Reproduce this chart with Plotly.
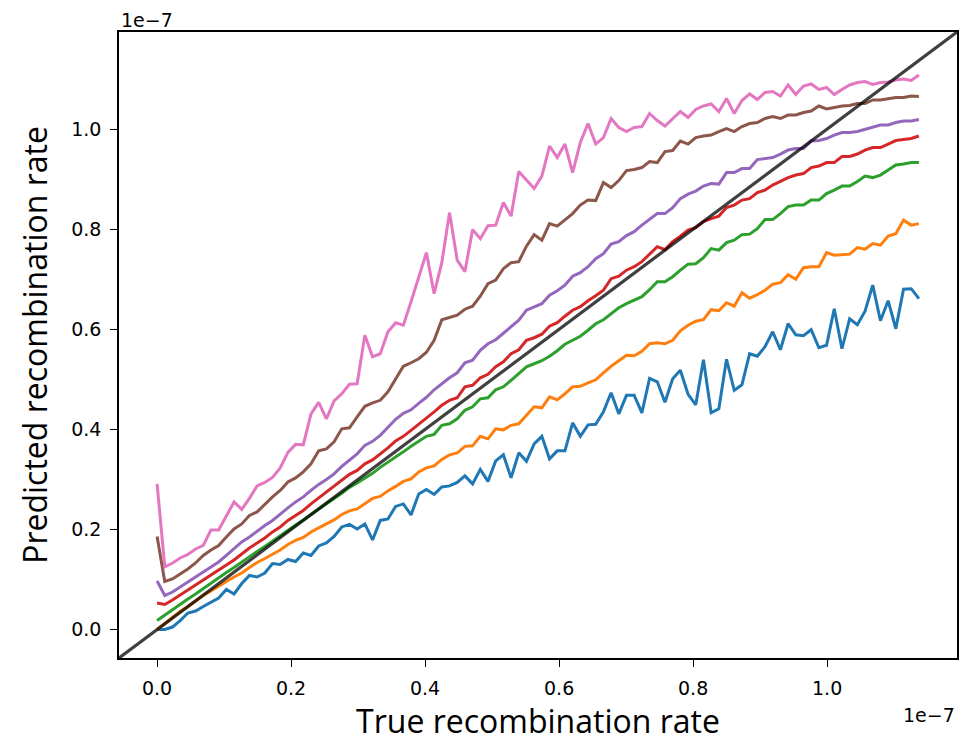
import numpy as np
import plotly.graph_objects as go

# True recombination rate grid (units of 1e-7), 100 evaluation points
true_rate = np.linspace(0.0, 1.137, 100)

blue = [0.000, 0.000, 0.005, 0.018, 0.033, 0.037, 0.046, 0.055, 0.063, 0.080,
        0.071, 0.092, 0.108, 0.105, 0.113, 0.132, 0.130, 0.140, 0.136, 0.153,
        0.148, 0.167, 0.173, 0.186, 0.205, 0.210, 0.201, 0.211, 0.179, 0.218,
        0.221, 0.246, 0.251, 0.229, 0.271, 0.280, 0.270, 0.285, 0.287, 0.294,
        0.307, 0.291, 0.320, 0.296, 0.337, 0.349, 0.303, 0.353, 0.336, 0.371,
        0.386, 0.341, 0.357, 0.357, 0.413, 0.386, 0.409, 0.410, 0.435, 0.473,
        0.431, 0.468, 0.468, 0.433, 0.502, 0.495, 0.454, 0.501, 0.518, 0.470,
        0.449, 0.539, 0.433, 0.441, 0.540, 0.478, 0.489, 0.551, 0.546, 0.565,
        0.595, 0.559, 0.611, 0.589, 0.587, 0.599, 0.563, 0.568, 0.641, 0.561,
        0.621, 0.609, 0.636, 0.688, 0.617, 0.657, 0.601, 0.680, 0.681, 0.661]

orange = [0.000, 0.012, 0.024, 0.036, 0.046, 0.057, 0.068, 0.077, 0.087, 0.096,
          0.105, 0.113, 0.124, 0.134, 0.142, 0.151, 0.159, 0.170, 0.178, 0.184,
          0.195, 0.203, 0.211, 0.219, 0.230, 0.237, 0.241, 0.251, 0.262, 0.266,
          0.277, 0.286, 0.296, 0.301, 0.315, 0.323, 0.327, 0.340, 0.349, 0.353,
          0.366, 0.367, 0.386, 0.381, 0.401, 0.399, 0.408, 0.411, 0.428, 0.445,
          0.443, 0.465, 0.459, 0.471, 0.485, 0.486, 0.493, 0.499, 0.513, 0.526,
          0.537, 0.548, 0.547, 0.556, 0.571, 0.573, 0.571, 0.578, 0.597, 0.608,
          0.616, 0.619, 0.639, 0.637, 0.653, 0.646, 0.673, 0.662, 0.669, 0.678,
          0.690, 0.693, 0.709, 0.700, 0.723, 0.725, 0.725, 0.753, 0.748, 0.749,
          0.750, 0.763, 0.760, 0.771, 0.768, 0.786, 0.791, 0.818, 0.808, 0.811]

green = [0.018, 0.029, 0.040, 0.051, 0.061, 0.071, 0.082, 0.093, 0.103, 0.114,
         0.124, 0.135, 0.145, 0.156, 0.166, 0.177, 0.187, 0.198, 0.209, 0.219,
         0.230, 0.241, 0.251, 0.262, 0.272, 0.284, 0.293, 0.303, 0.312, 0.324,
         0.334, 0.345, 0.355, 0.366, 0.376, 0.386, 0.390, 0.408, 0.411, 0.421,
         0.438, 0.445, 0.461, 0.463, 0.479, 0.485, 0.498, 0.511, 0.525, 0.531,
         0.537, 0.546, 0.557, 0.570, 0.578, 0.586, 0.598, 0.611, 0.619, 0.631,
         0.643, 0.651, 0.658, 0.665, 0.679, 0.695, 0.695, 0.705, 0.718, 0.730,
         0.731, 0.743, 0.761, 0.758, 0.773, 0.778, 0.789, 0.790, 0.801, 0.819,
         0.819, 0.831, 0.845, 0.848, 0.848, 0.858, 0.858, 0.871, 0.878, 0.886,
         0.886, 0.895, 0.906, 0.903, 0.908, 0.918, 0.928, 0.930, 0.933, 0.933]

red = [0.053, 0.050, 0.059, 0.069, 0.079, 0.089, 0.099, 0.109, 0.119, 0.129,
       0.139, 0.151, 0.163, 0.173, 0.183, 0.195, 0.205, 0.218, 0.228, 0.238,
       0.251, 0.263, 0.275, 0.286, 0.298, 0.310, 0.318, 0.331, 0.339, 0.351,
       0.363, 0.377, 0.386, 0.398, 0.410, 0.422, 0.435, 0.448, 0.458, 0.463,
       0.485, 0.488, 0.503, 0.510, 0.525, 0.535, 0.551, 0.559, 0.578, 0.583,
       0.590, 0.606, 0.613, 0.626, 0.638, 0.645, 0.657, 0.667, 0.678, 0.701,
       0.706, 0.718, 0.725, 0.735, 0.750, 0.765, 0.759, 0.775, 0.786, 0.798,
       0.803, 0.815, 0.821, 0.826, 0.843, 0.848, 0.858, 0.861, 0.873, 0.878,
       0.888, 0.895, 0.903, 0.908, 0.911, 0.923, 0.926, 0.933, 0.933, 0.945,
       0.945, 0.950, 0.958, 0.963, 0.963, 0.970, 0.977, 0.979, 0.981, 0.986]

purple = [0.097, 0.068, 0.075, 0.085, 0.095, 0.105, 0.115, 0.125, 0.135, 0.148,
          0.161, 0.175, 0.185, 0.197, 0.208, 0.218, 0.231, 0.243, 0.255, 0.265,
          0.278, 0.290, 0.300, 0.311, 0.326, 0.338, 0.351, 0.368, 0.376, 0.388,
          0.403, 0.420, 0.432, 0.439, 0.452, 0.464, 0.479, 0.491, 0.503, 0.513,
          0.533, 0.538, 0.558, 0.571, 0.579, 0.592, 0.606, 0.618, 0.638, 0.644,
          0.651, 0.668, 0.677, 0.688, 0.706, 0.713, 0.725, 0.741, 0.751, 0.770,
          0.775, 0.787, 0.795, 0.808, 0.820, 0.831, 0.831, 0.843, 0.861, 0.870,
          0.876, 0.886, 0.891, 0.890, 0.913, 0.913, 0.921, 0.921, 0.939, 0.941,
          0.943, 0.950, 0.958, 0.961, 0.961, 0.976, 0.977, 0.981, 0.988, 0.993,
          0.993, 0.995, 0.999, 1.003, 1.008, 1.008, 1.013, 1.016, 1.016, 1.019]

brown = [0.186, 0.096, 0.101, 0.111, 0.121, 0.133, 0.148, 0.159, 0.168, 0.185,
         0.201, 0.211, 0.228, 0.235, 0.251, 0.265, 0.278, 0.295, 0.303, 0.315,
         0.331, 0.357, 0.361, 0.375, 0.401, 0.403, 0.425, 0.446, 0.453, 0.458,
         0.475, 0.501, 0.526, 0.533, 0.541, 0.554, 0.578, 0.619, 0.624, 0.628,
         0.640, 0.646, 0.666, 0.691, 0.698, 0.721, 0.733, 0.735, 0.766, 0.789,
         0.778, 0.811, 0.806, 0.818, 0.831, 0.848, 0.858, 0.857, 0.893, 0.883,
         0.897, 0.917, 0.919, 0.923, 0.935, 0.933, 0.955, 0.957, 0.976, 0.970,
         0.983, 0.986, 0.988, 0.995, 1.001, 0.995, 1.005, 1.011, 1.013, 1.021,
         1.025, 1.021, 1.028, 1.028, 1.033, 1.036, 1.046, 1.040, 1.043, 1.046,
         1.047, 1.051, 1.051, 1.058, 1.058, 1.061, 1.063, 1.063, 1.066, 1.065]

pink = [0.291, 0.125, 0.133, 0.143, 0.150, 0.161, 0.168, 0.199, 0.199, 0.228,
        0.255, 0.240, 0.262, 0.287, 0.294, 0.304, 0.323, 0.354, 0.370, 0.369,
        0.431, 0.454, 0.421, 0.457, 0.471, 0.490, 0.491, 0.588, 0.545, 0.551,
        0.595, 0.613, 0.608, 0.655, 0.705, 0.753, 0.671, 0.733, 0.833, 0.738,
        0.715, 0.799, 0.781, 0.807, 0.808, 0.853, 0.826, 0.915, 0.898, 0.881,
        0.906, 0.966, 0.943, 0.970, 0.913, 0.973, 1.011, 0.970, 0.983, 1.021,
        1.003, 0.995, 1.003, 1.005, 1.031, 1.017, 1.006, 1.021, 1.035, 1.023,
        1.039, 1.046, 1.050, 1.035, 1.061, 1.031, 1.057, 1.070, 1.059, 1.073,
        1.075, 1.066, 1.088, 1.069, 1.086, 1.090, 1.079, 1.083, 1.069, 1.079,
        1.088, 1.093, 1.095, 1.089, 1.093, 1.094, 1.098, 1.100, 1.097, 1.108]

series = [blue, orange, green, red, purple, brown, pink]
colors = ["#1f77b4", "#ff7f0e", "#2ca02c", "#d62728", "#9467bd", "#8c564b", "#e377c2"]

tick_vals = [0.0, 0.2, 0.4, 0.6, 0.8, 1.0]
tick_text = ["0.0", "0.2", "0.4", "0.6", "0.8", "1.0"]
scale = 1e-7

x_max = float(true_rate[-1])
pad = 0.05 * x_max
axis_range = [(-pad) * scale, (x_max + pad) * scale]

fig = go.Figure()
x_data = true_rate * scale
for vals, col in zip(series, colors):
    fig.add_trace(go.Scatter(x=x_data, y=np.array(vals) * scale, mode="lines",
                             line=dict(color=col, width=3), showlegend=False,
                             hoverinfo="skip"))

# identity line y = x spanning the axes
fig.add_trace(go.Scatter(x=axis_range, y=axis_range, mode="lines",
                         line=dict(color="rgba(0,0,0,0.75)", width=3.2),
                         showlegend=False, hoverinfo="skip"))

tick_font = dict(family="DejaVu Sans", size=19, color="black")
title_font = dict(family="Open Sans", size=32, color="black")

common = dict(range=axis_range, showline=True, linecolor="black", linewidth=1.6,
              mirror=True, ticks="outside", ticklen=7, tickwidth=1.4,
              tickcolor="black", showgrid=False, zeroline=False,
              tickvals=[v * scale for v in tick_vals], ticktext=tick_text,
              tickfont=tick_font, ticklabelstandoff=5)

fig.update_layout(
    width=966, height=744,
    margin=dict(l=119, r=9, t=32, b=86),
    paper_bgcolor="white", plot_bgcolor="white",
    xaxis=dict(**common, automargin=False,
               title=dict(text="True recombination rate", font=title_font, standoff=8)),
    yaxis=dict(**common, automargin=False,
               title=dict(text="Predicted recombination rate", font=title_font, standoff=14)),
    annotations=[
        dict(text="1e\u22127", xref="paper", yref="paper", x=0, y=1, xanchor="left",
             yanchor="bottom", yshift=-1, showarrow=False, font=tick_font),
        dict(text="1e\u22127", xref="paper", yref="paper", x=1, y=0, xanchor="right",
             yanchor="top", yshift=-44, showarrow=False, font=tick_font),
    ],
)

fig.write_html("out.html")
